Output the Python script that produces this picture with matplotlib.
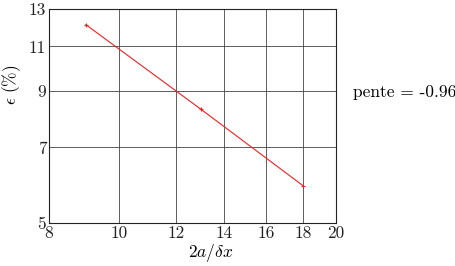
import matplotlib
matplotlib.use("Agg")
import matplotlib.pyplot as plt
from matplotlib.ticker import FixedLocator, FixedFormatter, NullLocator

plt.rcParams['mathtext.fontset'] = 'cm'
plt.rcParams['font.family'] = ['cmr10', 'DejaVu Serif']
plt.rcParams['axes.formatter.use_mathtext'] = True

x_vals = [9, 13, 18]
y_vals = [12.12, 8.30, 5.90]
x_ticks = [8, 10, 12, 14, 16, 18, 20]
y_ticks = [5, 7, 9, 11, 13]
slope_text = "pente = -0.96"

W, H = 456, 266
fig = plt.figure(figsize=(W/100, H/100), dpi=100)
ax = fig.add_axes([49/W, 1-222.7/H, (336-49)/W, (222.7-9)/H])
ax.set_xscale('log')
ax.set_yscale('log')
ax.plot(x_vals, y_vals, color='#ee2222', lw=0.8, marker='+', ms=3, mew=0.8)
ax.set_xlim(8, 20)
ax.set_ylim(5, 13)
ax.xaxis.set_major_locator(FixedLocator(x_ticks))
ax.xaxis.set_major_formatter(FixedFormatter([str(t) for t in x_ticks]))
ax.xaxis.set_minor_locator(NullLocator())
ax.yaxis.set_major_locator(FixedLocator(y_ticks))
ax.yaxis.set_major_formatter(FixedFormatter([str(t) for t in y_ticks]))
ax.yaxis.set_minor_locator(NullLocator())
ax.grid(True, color='#444444', lw=0.6)
ax.tick_params(length=0, labelsize=12.5, pad=2, colors='#222222')
for s in ax.spines.values():
    s.set_color('#222222')
    s.set_linewidth(0.8)

fig.text(211/W, 1-253/H, r'$2a/\delta x$', ha='center', va='center', fontsize=12.5)
fig.text(12/W, 1-85/H, r'$\epsilon\ (\%)$', ha='center', va='center', rotation=90, fontsize=12.5)
fig.text(353/W, 1-92/H, slope_text, ha='left', va='center', fontsize=12.5)

fig.savefig('out.png', dpi=100)
